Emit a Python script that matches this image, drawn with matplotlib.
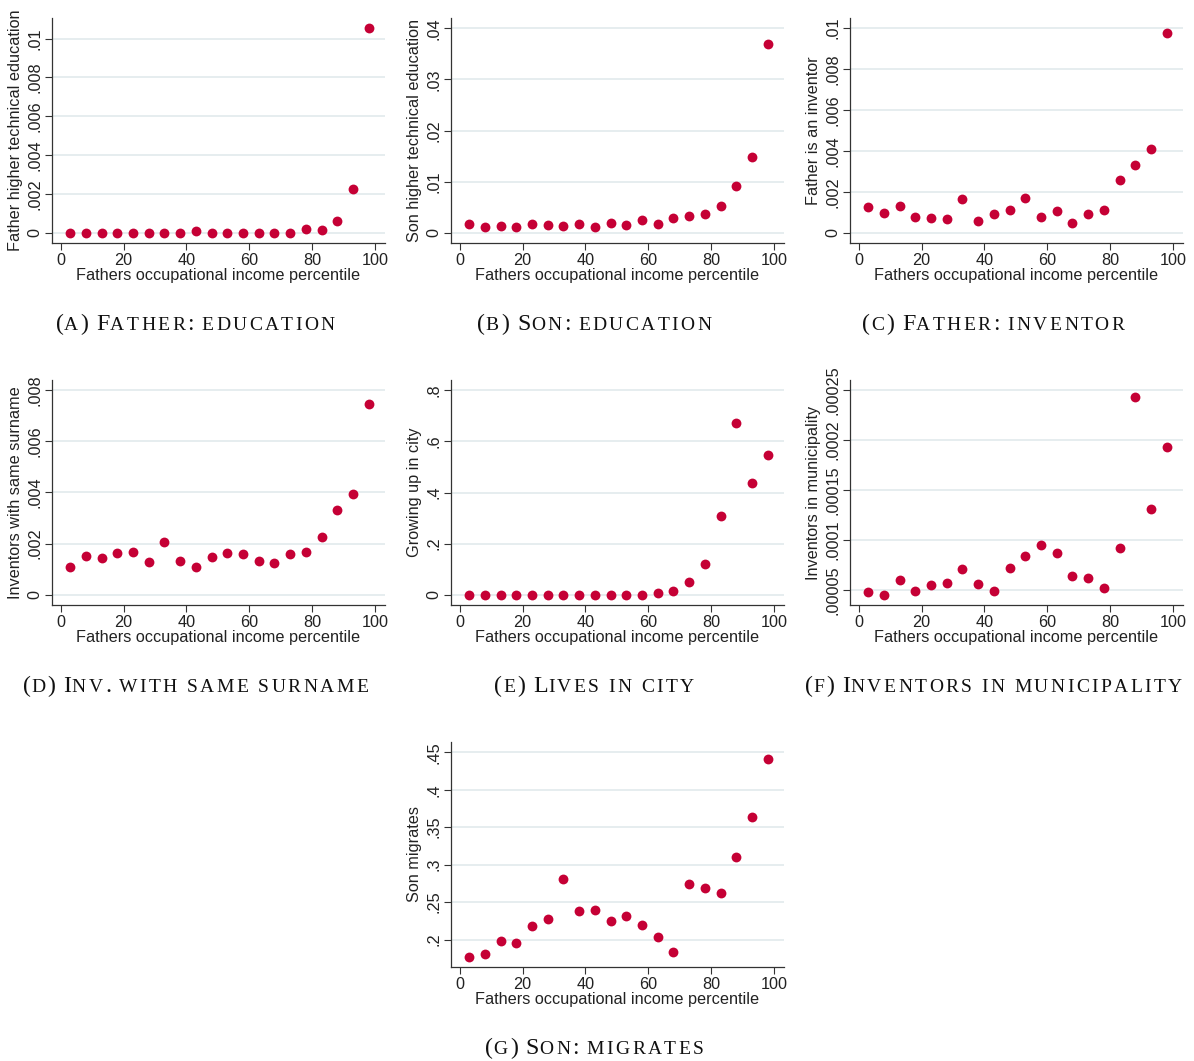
import matplotlib
matplotlib.use("Agg")
import matplotlib.pyplot as plt

# percentile bins (midpoints)
pct = [3, 8, 13, 18, 23, 28, 33, 38, 43, 48, 53, 58, 63, 68, 73, 78, 83, 88, 93, 98]

father_edu = [0, 0, 0, 0, 0, 0, 0, 0, 0.00009, 0, 0, 0, 0, 0, 0,
              0.0002, 0.00014, 0.00063, 0.00224, 0.01053]
son_edu = [0.0018, 0.0011, 0.0014, 0.0012, 0.0018, 0.0015, 0.0014, 0.0018, 0.0012, 0.0019,
           0.0016, 0.0025, 0.0018, 0.0029, 0.0032, 0.0036, 0.0053, 0.0092, 0.0149, 0.0370]
father_inv = [0.00125, 0.00098, 0.00133, 0.00076, 0.0007, 0.00068, 0.00164, 0.00057, 0.00093, 0.00112,
              0.00169, 0.00076, 0.00106, 0.0005, 0.00093, 0.00112, 0.0026, 0.00332, 0.00408, 0.00979]
inv_surname = [0.00107, 0.00152, 0.00142, 0.00165, 0.00168, 0.0013, 0.00208, 0.00132, 0.00108, 0.00146,
               0.00165, 0.00159, 0.00132, 0.00124, 0.0016, 0.00168, 0.00226, 0.0033, 0.00396, 0.00746]
city = [0, 0, 0, 0, 0, 0, 0, 0, 0, 0, 0, 0, 0.005, 0.014, 0.05, 0.12, 0.31, 0.672, 0.437, 0.548]
inv_muni = [0.0000473, 0.000045, 0.0000597, 0.000049, 0.0000547, 0.000057, 0.0000707, 0.000056,
            0.0000487, 0.0000717, 0.0000837, 0.000095, 0.0000873, 0.0000643, 0.0000623, 0.0000517,
            0.0000917, 0.000243, 0.000131, 0.000193]
son_migr = [0.177, 0.181, 0.198, 0.196, 0.218, 0.228, 0.281, 0.238, 0.240, 0.225,
            0.232, 0.220, 0.204, 0.183, 0.274, 0.269, 0.262, 0.310, 0.363, 0.441]

panels = [
    (father_edu, "Father higher technical education", [0, .002, .004, .006, .008, .01],
     ["0", ".002", ".004", ".006", ".008", ".01"], "(a) Father: education"),
    (son_edu, "Son higher technical education", [0, .01, .02, .03, .04],
     ["0", ".01", ".02", ".03", ".04"], "(b) Son: education"),
    (father_inv, "Father is an inventor", [0, .002, .004, .006, .008, .01],
     ["0", ".002", ".004", ".006", ".008", ".01"], "(c) Father: inventor"),
    (inv_surname, "Inventors with same surname", [0, .002, .004, .006, .008],
     ["0", ".002", ".004", ".006", ".008"], "(d) Inv. with same surname"),
    (city, "Growing up in city", [0, .2, .4, .6, .8],
     ["0", ".2", ".4", ".6", ".8"], "(e) Lives in city"),
    (inv_muni, "Inventors in municipality", [.00005, .0001, .00015, .0002, .00025],
     [".00005", ".0001", ".00015", ".0002", ".00025"], "(f) Inventors in municipality"),
    (son_migr, "Son migrates", [.2, .25, .3, .35, .4, .45],
     [".2", ".25", ".3", ".35", ".4", ".45"], "(g) Son: migrates"),
]

W, H = 1194, 1061
RED = "#C50035"
GRID = "#E4ECEE"
SANS = "Liberation Sans"
SERIF = "Liberation Serif"
FS = 11.7

fig = plt.figure(figsize=(W / 100, H / 100), dpi=100)

col_left = [52, 451, 850]
row_top = [18, 380, 742]
ax_w, ax_h = 333, 225
cap_y = [323, 685, 1047]
slots = [(0, 0), (0, 1), (0, 2), (1, 0), (1, 1), (1, 2), (2, 1)]


def small_caps(fig, cx, cy, text, big=17.2, small=14.0, track=2.4):
    # fake small caps: lowercase letters drawn as smaller capitals, letter by letter
    renderer = fig.canvas.get_renderer()
    space = big * 100 / 72 * 0.3
    objs = []
    x = 0
    for i, word in enumerate(text.split(" ")):
        if i > 0:
            x += space
        for ch in word:
            low = ch.islower()
            t = fig.text(0, 0, ch.upper(), fontsize=small if low else big,
                         family=SERIF, color="#111111", va="baseline", ha="left")
            w = t.get_window_extent(renderer).width
            objs.append((t, x))
            x += w + (track if low else 0.6)
    x0 = cx - x / 2
    for t, off in objs:
        t.set_position(((x0 + off) / W, 1 - cy / H))


for (vals, ylab, yt, ytl, cap), (r, c) in zip(panels, slots):
    left = col_left[c]
    top = row_top[r]
    ax = fig.add_axes([left / W, 1 - (top + ax_h) / H, ax_w / W, ax_h / H])
    ax.scatter(pct, vals, s=50, color=RED, linewidths=0, zorder=3)
    lo = min(min(vals), yt[0])
    hi = max(max(vals), yt[-1])
    pad = (hi - lo) * 0.05
    ax.set_ylim(lo - pad, hi + pad)
    ax.set_xlim(-2.8, 103.2)
    ax.set_xticks([0, 20, 40, 60, 80, 100])
    ax.set_yticks(yt)
    ax.set_yticklabels(ytl, rotation=90, va="center", family=SANS, fontsize=FS)
    for lab in ax.get_xticklabels():
        lab.set_family(SANS)
        lab.set_fontsize(FS)
    for y in yt:
        ax.axhline(y, color=GRID, lw=1.3, zorder=1)
    for s in ["top", "right"]:
        ax.spines[s].set_visible(False)
    for s in ["left", "bottom"]:
        ax.spines[s].set_color("#333333")
        ax.spines[s].set_linewidth(0.9)
    ax.tick_params(length=5, width=0.8, color="#333333", pad=2, labelcolor="#222222")
    ax.set_xlabel("Fathers occupational income percentile", family=SANS, fontsize=FS,
                  color="#222222", labelpad=0)
    ax.set_ylabel(ylab, family=SANS, fontsize=FS, color="#222222", labelpad=3)
    small_caps(fig, left + ax_w / 2 - 22, cap_y[r] + 7, cap)

fig.savefig("out.png", dpi=100)
